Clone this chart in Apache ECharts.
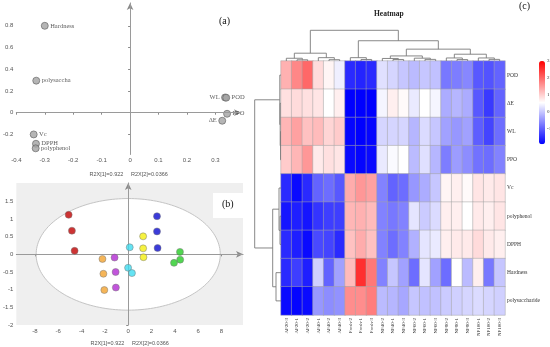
<!DOCTYPE html>
<html><head><meta charset="utf-8">
<script src="https://cdn.jsdelivr.net/npm/echarts@6/dist/echarts.min.js"></script>
<style>html,body{margin:0;padding:0;background:#fff}#c{width:550px;height:347px}</style>
</head><body><div id="c"></div>
<script>
// ---------- Panel (a): loading plot ----------
const loadingNames = ['Hardness','polysaccha','WL','POD','PPO','ΔE','Vc','DPPH','polyphenol'];
const loadingX = [-0.300, -0.330, 0.334, 0.338, 0.341, 0.324, -0.339, -0.331, -0.332];
const loadingY = [0.800, 0.295, 0.140, 0.138, -0.010, -0.074, -0.200, -0.286, -0.328];
const loadingXTicks = [-0.4,-0.3,-0.2,-0.1,0,0.1,0.2,0.3];
const loadingYTicks = [-0.2,0,0.2,0.4,0.6,0.8];

// ---------- Panel (b): score plot ----------
const scoreGroups = ['G1','G2','G3','G4','G5','G6','G7'];
const scoreX = [
  [-5.11,-4.83,-4.60],
  [-2.21,-2.13,-2.05],
  [-1.17,-1.08,-1.06],
  [0.13,-0.01,0.32],
  [1.28,1.28,1.31],
  [2.47,2.47,2.52],
  [4.44,4.46,3.93]
];
const scoreY = [
  [1.12,0.67,0.10],
  [-0.13,-0.55,-1.01],
  [-0.09,-0.50,-0.94],
  [0.20,-0.38,-0.53],
  [0.51,0.17,-0.08],
  [1.08,0.65,0.18],
  [0.07,-0.15,-0.24]
];
const ellipseAxes = [7.9, 1.58];
const scoreXTicks = [-8,-6,-4,-2,0,2,4,6,8];
const scoreYTicks = [-2,-1.5,-1,-0.5,0,0.5,1,1.5];
const axisNameText = 'R2X[1]=0.922     R2X[2]=0.0366';

// ---------- Panel (c): heatmap ----------
const heatCols = ['AF20-3','AF20-1','AF20-2','AF40-1','AF40-2','AF40-3','Fresh-2','Fresh-1','Fresh-3',
  'NF40-2','NF40-1','NF40-3','NF60-2','NF60-1','NF60-3','NF80-2','NF80-1','NF80-3','NF100-1','NF100-2','NF100-3'];
const heatRows = ['POD','ΔE','WL','PPO','Vc','polyphenol','DPPH','Hardness','polysaccharide'];
const rowPOD   = [1.3,1.7,2.0,0.9,0.65,0.4,-1.5,-1.55,-1.5,0.25,0.15,0.0,-0.1,0.0,-0.05,-0.75,-0.7,-0.6,-1.05,-1.1,-0.95];
const rowDE    = [0.85,0.9,0.85,0.8,0.55,0.7,-1.9,-1.9,-1.9,0.45,0.7,0.6,0.35,0.55,0.45,-0.25,-0.15,-0.25,-1.05,-1.35,-0.95];
const rowWL    = [1.25,1.45,1.15,1.2,0.95,1.05,-1.85,-1.9,-1.85,0.15,0.15,0.15,-0.15,0.2,0.0,-0.35,-0.45,-0.35,-1.0,-1.25,-0.85];
const rowPPO   = [1.05,1.25,1.55,0.75,0.85,0.8,-1.8,-1.85,-1.8,0.35,0.5,0.55,-0.1,0.25,-0.15,-0.7,-0.4,-0.55,-0.8,-0.85,-0.65];
const rowVc    = [-1.5,-1.8,-1.5,-0.95,-0.85,-1.05,1.35,1.55,1.45,-0.65,-0.95,-0.85,-0.45,-0.25,0.0,0.65,0.7,0.6,0.8,0.75,0.8];
const rowPoly  = [-1.7,-1.6,-1.7,-1.4,-1.3,-1.3,1.25,1.3,1.2,-0.65,-0.75,-0.65,0.3,0.05,0.2,0.7,0.7,0.55,0.75,0.7,0.8];
const rowDPPH  = [-1.5,-1.6,-1.8,-1.2,-1.25,-1.5,1.15,1.35,1.15,-0.65,-0.85,-0.65,-0.2,0.3,0.35,0.7,0.75,0.75,0.9,0.75,0.7];
const rowHard  = [-1.5,-1.3,-1.6,0.1,-0.95,-0.35,1.2,2.55,1.85,-0.65,0.0,-0.35,-0.85,0.3,-0.35,-0.85,0.55,-0.1,0.7,-0.75,0.0];
const rowPolys = [-1.8,-1.85,-1.8,-0.45,-0.55,-0.5,1.65,1.65,1.8,-0.1,-0.15,-0.3,0.0,-0.05,-0.05,0.05,0.1,0.15,0.2,0.15,0.1];
const heatValues = [rowPOD,rowDE,rowWL,rowPPO,rowVc,rowPoly,rowDPPH,rowHard,rowPolys];
const colorMin = -1.9, colorMax = 3;
const colorTicks = [-1,0,1,2,3];
// dendrograms: leaf = column/row index, node = [left, right, height]
const colTree = [[[0,[1,2,1.2],2.7],[3,[4,5,1.3],3.3],7.7],
  [[6,[7,8,1.5],3.3],
   [[[9,[10,11,1.5],2.5],[12,[13,14,1.6],2.8],5],[[15,[16,17,1.4],3],[18,[19,20,1.6],3],6.7],11.7],20],30.3];
const rowTree = [[0,[1,[2,3,0.5],0.8],1.2],[[4,[5,6,1.0],2.0],[7,8,5.0],8.3],26.3];

// ---------- build ----------
const chart = echarts.init(document.getElementById('c'), null, {renderer:'canvas'});
const SERIF = 'Liberation Serif', SANS = 'Liberation Sans';
const leftLabelled = new Set(['WL','ΔE']);
const groupColors = ['#c00000','#f2a22e','#b22ad2','#3fdcf0','#f4ef10','#0a0ad0','#26cc26'];

function dendroSegments(tree){
  const segs = [];
  function walk(n){
    if (typeof n === 'number') return {p:n+0.5, h:0};
    const a = walk(n[0]), b = walk(n[1]), h = n[2];
    segs.push([a.p,a.h,a.p,h]); segs.push([b.p,b.h,b.p,h]); segs.push([a.p,h,b.p,h]);
    return {p:(a.p+b.p)/2, h:h};
  }
  walk(tree);
  return segs;
}
const colSegs = dendroSegments(colTree);
const rowSegs = dendroSegments(rowTree).map(s=>[s[1],s[0],s[3],s[2]]);

const heatData = [];
heatValues.forEach((row,r)=>row.forEach((v,c)=>heatData.push([c,r,v])));

const lineRender = function(params, api){
  const p1 = api.coord([api.value(0), api.value(1)]);
  const p2 = api.coord([api.value(2), api.value(3)]);
  return {type:'line', shape:{x1:p1[0],y1:p1[1],x2:p2[0],y2:p2[1]}, style:{stroke:'#7a7a7a', lineWidth:0.9}};
};

const axisBase = (ticks) => ({
  axisLine:{show:true, lineStyle:{color:'#8a8a8a', width:1}, symbol:['none','arrow'], symbolSize:[5,7]},
  axisTick:{show:true, length:2, lineStyle:{color:'#8a8a8a'}, customValues:ticks},
  axisLabel:{fontSize:6, color:'#555', fontFamily:SANS, margin:3, customValues:ticks},
  splitLine:{show:false}
});

const series = [];
// (a)
series.push({
  type:'scatter', xAxisIndex:0, yAxisIndex:0, symbolSize:7, z:3,
  itemStyle:{color:'#a3a3a3', borderColor:'#5e5e5e', borderWidth:0.8},
  labelLayout:{hideOverlap:false},
  data: loadingNames.map((n,i)=>({name:n, value:[loadingX[i], loadingY[i]],
    label:{show:true, formatter:n, position: leftLabelled.has(n)?'left':'right', distance:1.5,
      fontSize:6.5, fontFamily:SERIF, color:'#333'}})),
  markLine:{silent:true, symbol:'none', label:{show:false}, lineStyle:{color:'#9a9a9a', width:1, type:'solid'},
    data:[{xAxis:0},{yAxis:0}], animation:false}
});
// (b) ellipse
series.push({
  type:'custom', xAxisIndex:1, yAxisIndex:1, z:1, silent:true,
  data:[[0,0,ellipseAxes[0],ellipseAxes[1]]],
  renderItem:function(params, api){
    const c = api.coord([api.value(0), api.value(1)]);
    const rx = api.size([api.value(2),0])[0], ry = api.size([0,api.value(3)])[1];
    const pts = [];
    for (let k=0;k<180;k++){ const t=k/180*Math.PI*2; pts.push([c[0]+rx*Math.cos(t), c[1]+ry*Math.sin(t)]); }
    return {type:'polygon', shape:{points:pts}, style:{fill:'#ffffff', stroke:'#c4c4c4', lineWidth:1}};
  }
});
scoreGroups.forEach((g,gi)=>{
  series.push({
    type:'scatter', name:g, xAxisIndex:1, yAxisIndex:1, symbolSize:7, z:4,
    itemStyle:{color:groupColors[gi], borderColor:'#777', borderWidth:0.6},
    data: scoreX[gi].map((x,i)=>[x, scoreY[gi][i]]),
    markLine: gi===0 ? {silent:true, symbol:'none', label:{show:false}, z:2,
      lineStyle:{color:'#9a9a9a', width:1, type:'solid'}, data:[{xAxis:0},{yAxis:0}], animation:false} : undefined
  });
});
// (c) heatmap
const heatIdx = series.length;
series.push({
  type:'heatmap', xAxisIndex:2, yAxisIndex:2, data:heatData,
  itemStyle:{borderColor:'#a4a4a4', borderWidth:0.5},
  emphasis:{disabled:true}
});
series.push({type:'custom', xAxisIndex:3, yAxisIndex:3, data:colSegs, renderItem:lineRender, silent:true});
series.push({type:'custom', xAxisIndex:4, yAxisIndex:4, data:rowSegs, renderItem:lineRender, silent:true});
series.push({type:'scatter', xAxisIndex:5, yAxisIndex:5, data:[[0.5, colorMin]], symbolSize:0, silent:true, itemStyle:{opacity:0}});

const option = {
  animation:false,
  backgroundColor:'#ffffff',
  grid:[
    {left:14, top:3, width:227, height:151.3},
    {left:13, top:183, width:230, height:143.3, show:true, backgroundColor:'#efefef', borderWidth:0},
    {left:281, top:61, width:224, height:254},
    {left:281, top:30, width:224, height:31},
    {left:254, top:61, width:27, height:254},
    {left:539, top:61, width:6, height:83.3}
  ],
  xAxis:[
    Object.assign({type:'value', gridIndex:0, min:-0.4, max:0.39,
      name:axisNameText, nameLocation:'middle', nameGap:17,
      nameTextStyle:{fontSize:5.5, color:'#555', fontFamily:SANS}}, axisBase(loadingXTicks)),
    Object.assign({type:'value', gridIndex:1, min:-9.6, max:9.85,
      name:axisNameText, nameLocation:'middle', nameGap:15,
      nameTextStyle:{fontSize:5.5, color:'#555', fontFamily:SANS}}, axisBase(scoreXTicks)),
    {type:'category', gridIndex:2, data:heatCols, position:'bottom',
      axisLine:{show:false}, axisTick:{show:false}, splitLine:{show:false},
      axisLabel:{rotate:90, fontSize:5, fontFamily:SERIF, color:'#333', margin:3, interval:0}},
    {type:'value', gridIndex:3, min:0, max:21, show:false},
    {type:'value', gridIndex:4, min:0, max:27, inverse:true, show:false},
    {type:'value', gridIndex:5, min:0, max:1, show:false}
  ],
  yAxis:[
    Object.assign({type:'value', gridIndex:0, min:-0.383, max:1.01}, axisBase(loadingYTicks)),
    Object.assign({type:'value', gridIndex:1, min:-2, max:2.02}, axisBase(scoreYTicks)),
    {type:'category', gridIndex:2, data:heatRows, inverse:true, position:'right',
      axisLine:{show:false}, axisTick:{show:false}, splitLine:{show:false},
      axisLabel:{fontSize:5.5, fontFamily:SERIF, color:'#333', margin:2, interval:0}},
    {type:'value', gridIndex:3, min:0, max:30.6, show:false},
    {type:'value', gridIndex:4, min:0, max:9, inverse:true, show:false},
    {type:'value', gridIndex:5, min:colorMin, max:colorMax, show:false}
  ],
  visualMap:{
    type:'continuous', seriesIndex:heatIdx, min:colorMin, max:colorMax,
    inRange:{color:['#0000ff','#ffffff','#ff0000']},
    calculable:false, hoverLink:false, orient:'vertical',
    left:539, top:61, itemWidth:6, itemHeight:83.3, padding:0, text:null, showLabel:false,
    textStyle:{fontSize:0}
  },
  graphic:[
    {type:'text', left:219, top:16, style:{text:'(a)', font:'10px "Liberation Serif"', fill:'#111'}},
    {type:'rect', shape:{x:213, y:193, width:32, height:25}, style:{fill:'#ffffff'}, z:10},
    {type:'text', left:222, top:199, z:11, style:{text:'(b)', font:'10px "Liberation Serif"', fill:'#111'}},
    {type:'text', left:374, top:10, style:{text:'Heatmap', font:'bold 7.5px "Liberation Serif"', fill:'#222'}},
    {type:'text', left:519, top:1, style:{text:'(c)', font:'10px "Liberation Serif"', fill:'#111'}}
  ],
  series:series
};
chart.setOption(option);

// colour-bar scale labels, placed through the colour-bar axis scale
const barLabels = colorTicks.map(v=>{
  let y;
  try { y = chart.convertToPixel({yAxisIndex:5}, v); } catch(e) { y = null; }
  if (y == null || isNaN(y)) y = 61 + (colorMax - v)/(colorMax - colorMin)*83.3;
  return {type:'text', x:547, y:y, style:{text:String(v), font:'5px "Liberation Serif"', fill:'#333',
    textAlign:'left', textVerticalAlign:'middle'}};
});
chart.setOption({graphic: option.graphic.concat(barLabels)});
</script></body></html>
